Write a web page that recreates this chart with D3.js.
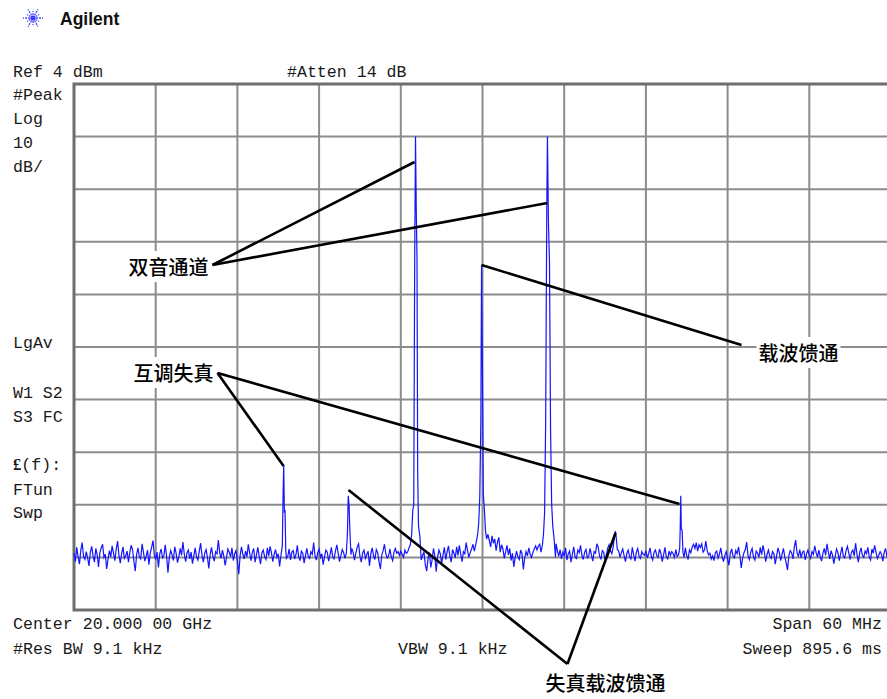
<!DOCTYPE html>
<html><head><meta charset="utf-8">
<script src="https://cdn.jsdelivr.net/npm/d3@7"></script>
<style>
html,body{margin:0;padding:0;background:#fff;}
svg{display:block;}
.mono{font-family:"Liberation Mono","DejaVu Sans Mono",monospace;font-size:16.6px;fill:#1a1a1a;}
.cjk{font-family:"Noto Sans CJK SC",sans-serif;font-size:20px;font-weight:500;fill:#000;}
</style></head>
<body>
<svg id="c" width="887" height="699"></svg>
<script>
// ---------- data ----------
const freqDomain = [-30, 30];          // MHz offset from centre 20 GHz
const levelDomain = [-96, 4];          // dBm (Ref 4 dBm, 10 dB/div)
const freqGrid = [-30,-24,-18,-12,-6,0,6,12,18,24,30];
const levelGrid = [4,-6,-16,-26,-36,-46,-56,-66,-76,-86,-96];

// noise floor, 601 sweep points, -30..+30 MHz
const noise = [
-85.2,-86.8,-84.1,-85.9,-87.3,-84.6,-83.2,-85.8,-86.4,-84.9,-86.1,-87.6,-85.0,-83.9,-85.7,-86.9,-84.3,-85.5,-87.8,-85.1,
-84.2,-83.5,-86.0,-85.4,-88.2,-86.3,-84.7,-85.9,-83.8,-85.2,-86.6,-84.4,-82.9,-85.6,-87.1,-85.3,-84.0,-86.2,-85.7,-84.8,
-86.9,-85.1,-83.7,-84.5,-86.8,-88.6,-85.4,-84.2,-85.9,-86.3,-83.4,-85.0,-86.7,-85.8,-84.6,-87.4,-85.2,-84.1,-82.8,-85.6,
-86.4,-85.0,-87.9,-85.3,-84.4,-86.1,-85.7,-83.6,-85.8,-88.9,-86.0,-84.7,-85.5,-86.6,-84.0,-85.2,-87.0,-85.9,-84.3,-85.6,
-83.1,-85.4,-86.8,-85.1,-84.6,-86.3,-85.0,-87.2,-85.7,-84.2,-85.9,-86.5,-84.8,-83.3,-85.6,-86.9,-85.2,-84.5,-86.0,-88.1,
-85.4,-84.1,-85.8,-86.7,-84.9,-85.3,-82.7,-85.1,-86.2,-84.6,-85.7,-87.5,-86.1,-84.4,-85.0,-85.9,-84.2,-86.6,-85.3,-84.7,
-86.8,-89.2,-85.6,-84.0,-85.4,-86.3,-84.8,-85.9,-83.5,-85.2,-86.6,-85.0,-84.3,-86.9,-85.5,-84.1,-85.8,-87.3,-85.1,-84.6,
-85.9,-86.4,-84.2,-85.7,-83.9,-85.1,-86.8,-85.4,-84.5,-86.0,-85.3,-87.7,-85.6,-84.0,-82.9,-85.2,-86.1,-85.8,-84.4,-86.5,
-85.0,-84.7,-86.3,-85.5,-83.7,-85.9,-86.6,-84.8,-85.2,-87.1,-85.6,-84.3,-85.8,-86.2,-84.9,-85.4,-83.2,-85.7,-86.5,-85.1,
-84.4,-86.0,-85.3,-87.4,-85.8,-84.6,-85.0,-86.7,-85.5,-84.1,-85.9,-86.3,-84.8,-83.6,-85.2,-86.8,-85.6,-84.5,-85.1,-86.2,
-85.4,-84.9,-86.1,-85.7,-84.3,-85.0,-86.5,-85.2,-84.0,-83.4,-85.8,-86.9,-85.1,-84.6,-86.2,-85.5,-84.8,-87.6,-85.3,-84.2,
-85.7,-86.4,-84.5,-85.1,-86.8,-88.2,-85.6,-84.7,-83.5,-85.3,-86.1,-85.8,-84.4,-85.9,-86.6,-85.0,-84.3,-85.2,-84.9,-85.6,
-84.8,-85.4,-86.0,-84.6,-85.2,-85.7,-84.9,-85.3,-84.1,-84.0,-85.0,-85.0,-85.0,-85.0,-85.0,-85.0,-85.0,-85.0,-87.4,-88.6,
-86.2,-85.1,-87.9,-86.5,-84.3,-85.8,-88.7,-86.0,-84.6,-85.3,-87.2,-85.5,-84.1,-86.4,-85.0,-83.8,-85.7,-86.9,-84.5,-85.2,
-86.1,-84.0,-85.6,-83.7,-85.4,-86.8,-84.9,-85.3,-83.2,-84.7,-86.0,-85.1,-84.4,-83.5,-84.8,-83.6,-82.9,-83.4,-82.1,-81.0,
-85.0,-85.0,-85.0,-85.0,-81.6,-82.8,-84.0,-81.9,-83.3,-82.5,-84.7,-83.1,-82.2,-85.0,-83.6,-84.4,-86.2,-84.9,-83.7,-85.5,
-84.3,-86.6,-85.2,-87.8,-86.0,-84.8,-85.9,-86.4,-84.6,-85.3,-88.3,-86.1,-84.9,-85.7,-84.2,-85.4,-86.0,-85.1,-84.4,-83.8,
-84.6,-83.9,-83.5,-85.0,-85.0,-85.0,-85.0,-85.0,-85.0,-85.0,-85.0,-85.0,-85.0,-85.0,-83.4,-84.7,-85.8,-84.5,-86.3,-85.0,
-85.7,-84.2,-86.5,-85.3,-84.8,-86.9,-85.4,-84.0,-85.9,-86.2,-84.6,-85.1,-83.7,-85.6,-86.4,-85.0,-84.5,-86.1,-85.8,-84.3,
-85.5,-86.7,-84.9,-85.2,-83.4,-84.1,-85.8,-86.3,-84.7,-85.0,-86.6,-85.4,-84.2,-83.6,-84.8,-85.3,-83.0,-82.2,-81.5,-83.9,
-84.8,-86.0,-85.1,-84.4,-85.7,-86.8,-85.2,-84.6,-85.9,-86.3,-84.1,-85.5,-86.7,-85.0,-84.3,-85.8,-86.2,-84.9,-85.4,-85.6,
-84.7,-86.1,-85.3,-84.2,-85.8,-86.5,-85.0,-84.6,-85.7,-86.0,-84.4,-85.2,-86.8,-85.5,-84.1,-85.9,-86.3,-84.8,-85.6,-84.9,
-85.3,-86.0,-84.5,-85.8,-85.0,-85.0,-85.0,-85.0,-85.0,-84.2,-85.7,-86.4,-84.6,-85.1,-84.0,-83.5,-84.3,-83.2,-84.8,-83.6,
-84.1,-83.4,-85.0,-84.6,-82.9,-84.7,-85.5,-85.2,-86.3,-85.7,-86.6,-85.1,-84.8,-86.1,-85.4,-84.2,-85.9,-86.8,-85.6,-84.9,
-86.3,-87.5,-85.2,-84.4,-85.8,-86.1,-84.7,-85.3,-84.0,-85.6,-88.0,-86.2,-85.1,-84.5,-83.1,-85.7,-86.4,-85.0,-84.3,-85.9,
-86.5,-84.8,-85.2,-86.0,-84.1,-85.5,-83.7,-85.0,-86.8,-85.4,-84.6,-85.8,-86.2,-84.9,-85.3,-87.3,-85.7,-84.2,-85.1,-86.6,
-85.4,-84.3,-85.9,-87.0,-88.4,-85.6,-84.7,-85.1,-86.3,-84.0,-82.7,-85.2,-85.8,-84.5,-86.1,-85.0,-84.8,-86.5,-85.3,-84.6,
-85.7,-86.2,-84.9,-85.4,-83.8,-85.1,-86.0,-84.6,-85.9,-86.7,-85.2,-84.3,-85.6,-83.4,-85.0,-86.3,-84.7,-85.5,-87.2,-85.8,
-84.4,-85.1,-86.6,-85.3,-84.0,-85.8,-86.1,-84.7,-83.9,-85.2,-86.4,-85.0,-84.6,-85.7,-83.3,-85.4,-86.9,-85.1,-84.2,-85.6,
-86.0,-84.8,-85.3,-84.1,-85.9,-86.5,-84.4,-85.2,-83.7,-85.0,-86.2,-85.6,-84.9,-85.4,-86.7,-85.1,-84.3,-85.8,-85.2,-84.6,
-85.3
];

// spectral lines: [freq MHz, dBm]
const imd3Low  = [[-14.8,-85.6],[-14.7,-83.8],[-14.65,-75.0],[-14.6,-68.4],[-14.55,-77.5],[-14.5,-77.0],[-14.45,-84.6],[-14.4,-86.2]];
const imd2Low  = [[-10.0,-85.2],[-9.92,-81.5],[-9.86,-74.3],[-9.8,-76.0],[-9.74,-81.0],[-9.66,-85.5]];
const tone1    = [[-5.5,-85.0],[-5.4,-84.2],[-5.3,-83.6],[-5.2,-81.5],[-5.12,-77.0],[-5.05,-76.0],[-4.98,-30.0],[-4.92,-6.0],[-4.86,-21.0],[-4.81,-29.0],[-4.76,-70.0],[-4.7,-80.0],[-4.6,-82.0],[-4.5,-86.5],[-4.4,-85.6]];
const carrier  = [[-0.45,-83.0],[-0.35,-81.5],[-0.28,-79.5],[-0.2,-74.5],[-0.12,-60.0],[-0.07,-30.4],[0.0,-52.0],[0.06,-74.0],[0.14,-77.0],[0.22,-81.0],[0.3,-82.5]];
const tone2    = [[4.3,-85.0],[4.4,-83.6],[4.48,-81.5],[4.56,-77.5],[4.64,-60.0],[4.72,-20.0],[4.77,-6.0],[4.84,-22.0],[4.92,-30.0],[5.0,-62.0],[5.08,-76.0],[5.16,-80.0],[5.26,-82.5],[5.36,-86.0]];
const imd2High = [[9.6,-84.0],[9.68,-82.0],[9.76,-81.0],[9.82,-82.2],[9.9,-84.5]];
const imd3High = [[14.4,-85.5],[14.48,-84.3],[14.52,-80.5],[14.56,-74.3],[14.6,-80.6],[14.66,-80.8],[14.72,-85.0],[14.8,-86.0]];
const lines = [imd3Low, imd2Low, tone1, carrier, tone2, imd2High, imd3High];

// annotations: label, vertex [freq, dBm], targets [[freq, dBm]...]
const annoLabels  = ["双音通道", "载波馈通", "互调失真", "失真载波馈通"];
const annoVertex  = [[-19.83,-30.41], [19.02,-45.62], [-19.46,-50.94], [6.24,-106.27]];
const annoTargets = [
  [[-4.99,-10.83],[4.77,-18.62]],
  [[-0.07,-30.41]],
  [[-14.61,-68.62],[14.47,-75.85]],
  [[-9.84,-73.19],[9.77,-81.36]]
];

const headerTexts = ["Ref 4 dBm", "#Atten 14 dB"];
const sideTexts = ["#Peak","Log","10","dB/","LgAv","W1  S2","S3  FC","(f):","FTun","Swp"];
const footerLeft = ["Center 20.000 00 GHz", "#Res BW 9.1 kHz"];
const footerMid = ["VBW 9.1 kHz"];
const footerRight = ["Span 60 MHz", "Sweep 895.6 ms"];

// ---------- drawing ----------
const svg = d3.select("#c");
const x = d3.scaleLinear().domain(freqDomain).range([74, 891]);
const y = d3.scaleLinear().domain(levelDomain).range([610, 84]);

// logo
const logo = svg.append("g").attr("transform","translate(33,18)");
d3.range(12).forEach(i=>{
  const a = i*Math.PI/6;
  logo.append("line").attr("x1",Math.cos(a)*3).attr("y1",Math.sin(a)*3)
    .attr("x2",Math.cos(a)*(i%2?7:10)).attr("y2",Math.sin(a)*(i%2?7:10))
    .attr("stroke","#4a4aff").attr("stroke-width",1.3).attr("stroke-dasharray","2,1");
});
logo.append("circle").attr("r",2.6).attr("fill","#3a3aff");
svg.append("text").attr("x",60).attr("y",25).text("Agilent")
  .attr("font-family","Liberation Sans, Arial, sans-serif").attr("font-weight","bold")
  .attr("font-size","17.5px").attr("fill","#111");

// header
svg.append("text").attr("class","mono").attr("x",13).attr("y",77).text(headerTexts[0]);
svg.append("text").attr("class","mono").attr("x",287).attr("y",77).text(headerTexts[1]);

// side
const sideY = [100,124,148,172,348,398,422,470,495,518];
sideTexts.forEach((t,i)=>{
  const tx = svg.append("text").attr("class","mono").attr("x",13).attr("y",sideY[i]);
  if (t === "(f):") { tx.append("tspan").attr("font-weight","bold").attr("font-family","Liberation Serif, serif").text("£"); }
  tx.append("tspan").text(t);
});

// grid
const grid = svg.append("g");
grid.selectAll("line.v").data(freqGrid).join("line").attr("class","v")
  .attr("x1",d=>x(d)).attr("x2",d=>x(d)).attr("y1",y(levelDomain[1])).attr("y2",y(levelDomain[0]))
  .attr("stroke","#8c8c8c").attr("stroke-width",2);
grid.selectAll("line.h").data(levelGrid).join("line").attr("class","h")
  .attr("y1",d=>y(d)).attr("y2",d=>y(d)).attr("x1",x(freqDomain[0])).attr("x2",x(freqDomain[1]))
  .attr("stroke","#8c8c8c").attr("stroke-width",2);
svg.append("rect").attr("x",x(freqDomain[0])).attr("y",y(levelDomain[1]))
  .attr("width",x(freqDomain[1])-x(freqDomain[0])).attr("height",y(levelDomain[0])-y(levelDomain[1]))
  .attr("fill","none").attr("stroke","#6e6e6e").attr("stroke-width",3);

// trace
const n = noise.length;
let pts = noise.map((v,i)=>[freqDomain[0] + i*(freqDomain[1]-freqDomain[0])/(n-1), v]);
lines.forEach(L=>{
  const lo = L[0][0], hi = L[L.length-1][0];
  pts = pts.filter(p=> p[0] < lo-1e-6 || p[0] > hi+1e-6);
  pts = pts.concat(L);
});
pts.sort((a,b)=>a[0]-b[0]);
svg.append("path").datum(pts)
  .attr("d", d3.line().x(d=>x(d[0])).y(d=>y(d[1])))
  .attr("fill","none").attr("stroke","#1414ff").attr("stroke-width",1.2);

// footer
svg.append("text").attr("class","mono").attr("x",13).attr("y",629).text(footerLeft[0]);
svg.append("text").attr("class","mono").attr("x",13).attr("y",654).text(footerLeft[1]);
svg.append("text").attr("class","mono").attr("x",398).attr("y",654).text(footerMid[0]);
svg.append("text").attr("class","mono").attr("x",882).attr("y",629).attr("text-anchor","end").text(footerRight[0]);
svg.append("text").attr("class","mono").attr("x",882).attr("y",654).attr("text-anchor","end").text(footerRight[1]);

// annotations
const labelOffset = [[-4,10,"end"],[17,16,"start"],[-4,8,"end"],[-22,27,"start"]];
const ag = svg.append("g");
annoLabels.forEach((lab,i)=>{
  const vx = x(annoVertex[i][0]), vy = y(annoVertex[i][1]);
  const t = ag.append("text").attr("class","cjk")
    .attr("x",vx+labelOffset[i][0]).attr("y",vy+labelOffset[i][1])
    .attr("text-anchor",labelOffset[i][2]).text(lab);
  const bb = t.node().getBBox();
  ag.insert("rect","text").attr("x",bb.x-2).attr("y",bb.y-1).attr("width",bb.width+4).attr("height",bb.height+2).attr("fill","#fff");
  annoTargets[i].forEach(tg=>{
    ag.append("line").attr("x1",vx).attr("y1",vy).attr("x2",x(tg[0])).attr("y2",y(tg[1]))
      .attr("stroke","#000").attr("stroke-width",2.6);
  });
});
</script>
</body></html>
